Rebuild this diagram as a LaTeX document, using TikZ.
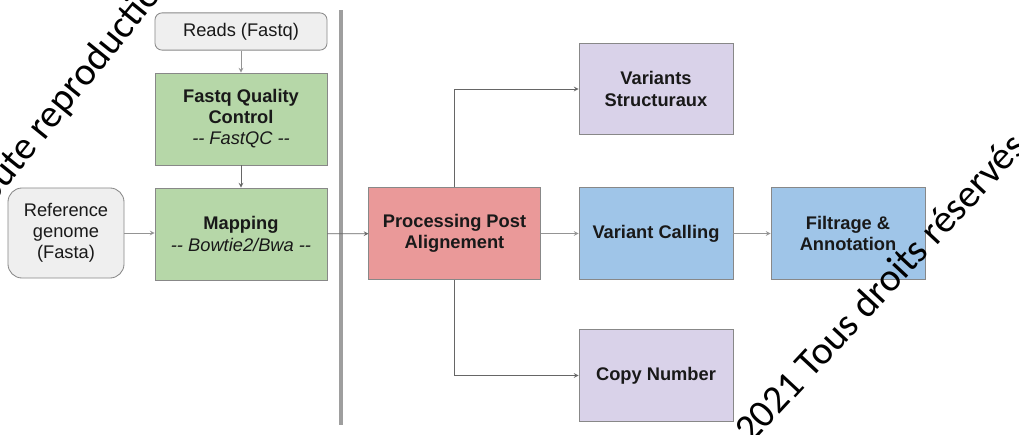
\documentclass[tikz,border=0pt]{standalone}
\usepackage{fontspec}
\setmainfont{Liberation Sans}
\newfontfamily\wmfont{Carlito}
\usetikzlibrary{shapes,calc,arrows}

\definecolor{greybox}{HTML}{EFEFEF}
\definecolor{greenbox}{HTML}{B6D7A8}
\definecolor{redbox}{HTML}{EA9999}
\definecolor{bluebox}{HTML}{9FC5E8}
\definecolor{lilacbox}{HTML}{D9D2E9}
\definecolor{edgegrey}{HTML}{888888}

\tikzset{
  box/.style={draw=edgegrey, line width=0.6pt, align=center, inner sep=0pt,
    text=black!90, font=\fontsize{13}{15}\selectfont},
  wide/.style={box, minimum width=4.3cm, minimum height=2.3cm},
  narrow/.style={box, minimum width=3.85cm, minimum height=2.28cm},
  arr/.style={->, >=stealth, draw=edgegrey!90, line width=0.5pt},
  watermark/.style={font=\wmfont\fontsize{28}{28}\selectfont, inner sep=0pt, anchor=base west}
}

\begin{document}
\begin{tikzpicture}[x=0.025cm, y=-0.025cm]
                \useasboundingbox (0,0) rectangle (1019,434);

                \coordinate (septop) at (341,10);
                \coordinate (sepbot) at (341,425);
                \draw[line width=2.5pt, black!38] (septop) -- (sepbot);

                \node[box, fill=greybox, rounded corners=5pt, minimum width=4.3cm, minimum height=0.93cm] (reads) at (241,31.5) {Reads (Fastq)};
                \node[wide, fill=greenbox] (fqc) at (241,119) {\textbf{Fastq Quality}\\\textbf{Control}\\\textit{-{}- FastQC -{}-}};
                \node[wide, fill=greenbox] (mapping) at (241,234) {\textbf{Mapping}\\\textit{-{}- Bowtie2/Bwa -{}-}};
                \node[box, fill=greybox, rounded corners=10pt, minimum width=2.9cm, minimum height=2.25cm] (refgen) at (66,233) {Reference\\genome\\(Fasta)};

                \node[box, fill=redbox, minimum width=4.28cm, minimum height=2.28cm] (proc) at (454.5,233.5) {\textbf{Processing Post}\\\textbf{Alignement}};
                \node[narrow, fill=bluebox] (vc) at (656,233.5) {\textbf{Variant Calling}};
                \node[narrow, fill=bluebox] (filt) at (848,233.5) {\textbf{Filtrage \&}\\\textbf{Annotation}};
                \node[narrow, fill=lilacbox] (vs) at (656,89) {\textbf{Variants}\\\textbf{Structuraux}};
                \node[narrow, fill=lilacbox] (cn) at (656,375.5) {\textbf{Copy Number}};

                \draw[arr] (reads) -- (fqc);
                \draw[arr, draw=black!60] (fqc) -- (mapping);
                \draw[arr] (refgen.east) -- (refgen.east -| mapping.west);
                \draw[arr, draw=black!60] (mapping) -- (proc);
                \draw[arr] (proc) -- (vc);
                \draw[arr] (vc) -- (filt);
                \draw[arr, draw=black!60] (proc.north) |- (vs.west);
                \draw[arr, draw=black!60] (proc.south) |- (cn.west);

                \begin{scope}
                    \clip (0,0) rectangle (1019,434);
                    \node[watermark, rotate=51] (wmtop) at (-18,218) {Toute reproduction interdite};
                    \node[watermark, rotate=47] (wmbot) at (751,445) {2021 Tous droits réservés};
                \end{scope}
            \end{tikzpicture}
\end{document}
